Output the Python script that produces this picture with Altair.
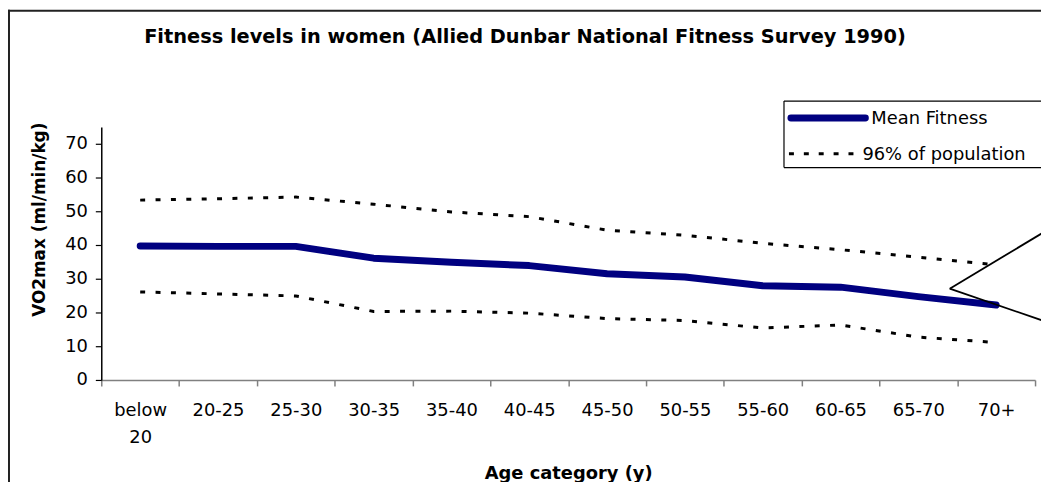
import altair as alt
import pandas as pd

# ---- data ----
categories = ["below 20", "20-25", "25-30", "30-35", "35-40", "40-45",
              "45-50", "50-55", "55-60", "60-65", "65-70", "70+"]
mean_fitness = [39.7, 39.6, 39.6, 36.1, 34.9, 33.9, 31.5, 30.5, 27.9, 27.5, 24.7, 22.2]
upper_96 = [53.3, 53.7, 54.2, 52.1, 49.8, 48.4, 44.4, 42.9, 40.5, 38.6, 36.4, 34.1]
lower_96 = [26.1, 25.5, 24.9, 20.3, 20.4, 19.8, 18.2, 17.6, 15.4, 16.3, 12.7, 11.1]
y_ticks = [0, 10, 20, 30, 40, 50, 60, 70]
series_names = ["Mean Fitness", "96% of population"]
title_text = "Fitness levels in women (Allied Dunbar National Fitness Survey 1990)"
x_title = "Age category (y)"
y_title = "VO2max (ml/min/kg)"

FONT = "DejaVu Sans"

df_mean = pd.DataFrame({"category": categories, "value": mean_fitness})
df_band = pd.concat([
    pd.DataFrame({"category": categories, "value": upper_96, "line": "upper"}),
    pd.DataFrame({"category": categories, "value": lower_96, "line": "lower"}),
], ignore_index=True)
deco = pd.DataFrame({"k": [0]})

x_enc = alt.X(
    "category:N", sort=categories, bandPosition=0.5,
    scale=alt.Scale(type="band", paddingInner=0, paddingOuter=0),
    axis=alt.Axis(
        title=x_title, titleFont=FONT, titleFontSize=18, titleFontWeight="bold",
        titleColor="black", titleY=94, titleBaseline="middle",
        labelAngle=0, labelFont=FONT, labelFontSize=18, labelColor="black",
        labelPadding=16, labelLineHeight=27, labelOverlap=False,
        labelExpr="datum.label == 'below 20' ? ['below', '20'] : datum.label",
        tickBand="extent", tickSize=6, tickColor="#808080", tickWidth=1.5,
        domainColor="#808080", domainWidth=1.5, grid=False,
    ),
)
y_enc = alt.Y(
    "value:Q",
    scale=alt.Scale(domain=[0, 75], nice=False, zero=True),
    axis=alt.Axis(
        values=y_ticks, title=y_title, titleFont=FONT, titleFontSize=17,
        titleFontWeight="bold", titleColor="black", titleX=-62, titleY=93,
        titleAngle=270, titleBaseline="middle",
        labelFont=FONT, labelFontSize=18, labelColor="black", labelPadding=8,
        tickSize=6, tickColor="black", tickWidth=1.2,
        domainColor="black", domainWidth=1.5, grid=False,
    ),
)

band_lines = alt.Chart(df_band).mark_line(
    color="black", strokeWidth=3, strokeDash=[5, 10.5]
).encode(x=x_enc, y=y_enc, detail="line:N")

mean_line = alt.Chart(df_mean).mark_line(
    color="#000080", strokeWidth=7, strokeCap="round", strokeJoin="round"
).encode(x=x_enc, y=y_enc)


def hrule(x1, x2, y, color="black", width=1.2):
    return alt.Chart(deco).mark_rule(color=color, strokeWidth=width).encode(
        x=alt.value(x1), x2=alt.value(x2), y=alt.value(y)
    )


def vrule(x, y1, y2, color="black", width=1.2):
    return alt.Chart(deco).mark_rule(color=color, strokeWidth=width).encode(
        x=alt.value(x), y=alt.value(y1), y2=alt.value(y2)
    )


# outer chart-area border (top and left edges; the rest lies outside the picture)
border_top = hrule(-94, 1000, -117, color="#222222", width=2)
border_left = vrule(-93, -118, 400, color="#222222", width=2)

# title
title = alt.Chart(deco).mark_text(
    text=title_text, font=FONT, fontSize=19.5, fontWeight="bold", color="black",
    align="center", baseline="middle"
).encode(x=alt.value(427), y=alt.value(-91))

# callout triangle on the right
call_up = alt.Chart(deco).mark_rule(color="black", strokeWidth=1.8).encode(
    x=alt.value(855), y=alt.value(163), x2=alt.value(960), y2=alt.value(100)
)
call_dn = alt.Chart(deco).mark_rule(color="black", strokeWidth=1.8).encode(
    x=alt.value(855), y=alt.value(163), x2=alt.value(960), y2=alt.value(199)
)

# legend (box runs off the right edge, as in the original)
leg_fill = alt.Chart(deco).mark_rect(fill="white").encode(
    x=alt.value(688), y=alt.value(-26), x2=alt.value(1000), y2=alt.value(41)
)
leg_top = hrule(688, 1000, -26)
leg_bottom = hrule(688, 1000, 41)
leg_left = vrule(688, -26, 41)
leg_mean_sym = alt.Chart(deco).mark_rule(color="#000080", strokeWidth=7, strokeCap="round").encode(
    x=alt.value(695), x2=alt.value(770), y=alt.value(-9)
)
leg_band_sym = alt.Chart(deco).mark_rule(color="black", strokeWidth=3, strokeDash=[5, 10]).encode(
    x=alt.value(693), x2=alt.value(762), y=alt.value(27)
)
leg_mean_txt = alt.Chart(deco).mark_text(
    text=series_names[0], font=FONT, fontSize=18, color="black", align="left", baseline="middle"
).encode(x=alt.value(776), y=alt.value(-8))
leg_band_txt = alt.Chart(deco).mark_text(
    text=series_names[1], font=FONT, fontSize=18, color="black", align="left", baseline="middle"
).encode(x=alt.value(767), y=alt.value(28))

chart = alt.layer(
    band_lines, mean_line, border_top, border_left, title, call_up, call_dn,
    leg_fill, leg_top, leg_bottom, leg_left,
    leg_mean_sym, leg_band_sym, leg_mean_txt, leg_band_txt
).properties(
    width=941, height=255,
    padding={"left": 94, "top": 118, "right": 6, "bottom": 101},
    autosize=alt.AutoSizeParams(type="none"),
    background="white",
).configure_view(stroke=None)

chart.save("out.html", embed_options={"renderer": "svg", "actions": False})
